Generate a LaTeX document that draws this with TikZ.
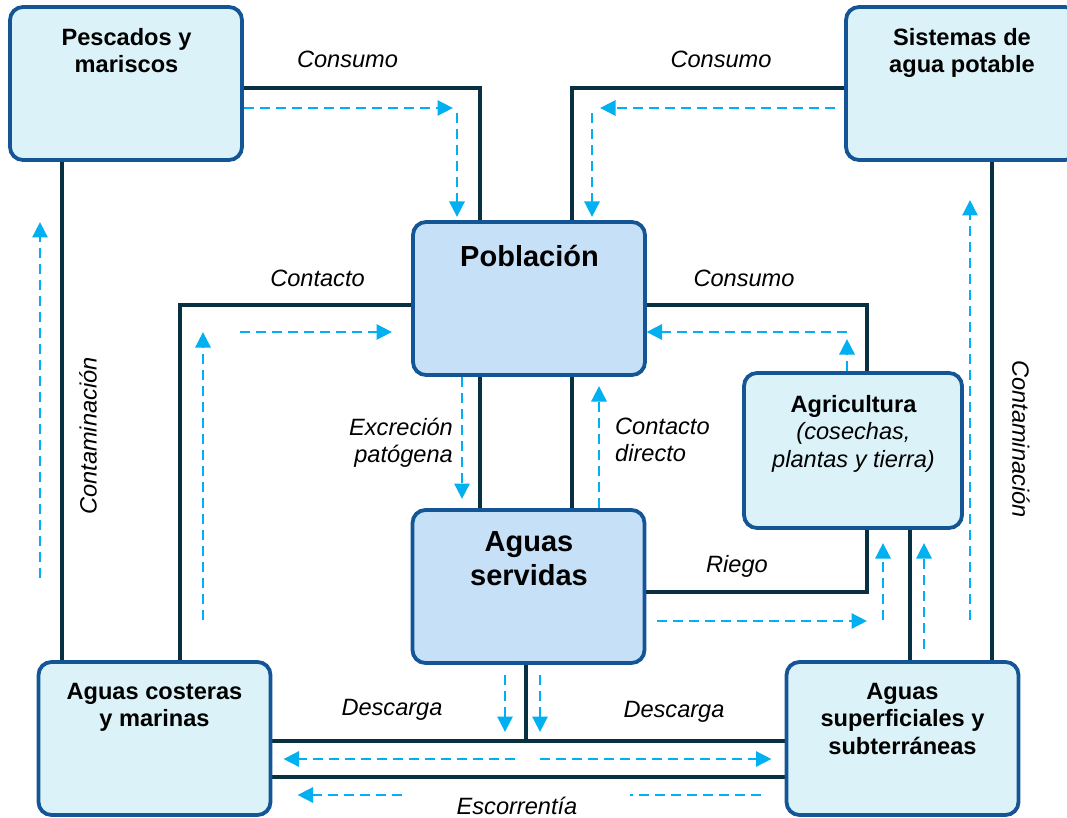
\documentclass[tikz,border=0pt]{standalone}
\usepackage{fontspec}
\setmainfont{Liberation Sans}
\usetikzlibrary{arrows.meta,backgrounds}
\definecolor{boxline}{RGB}{20,85,150}
\definecolor{boxpale}{RGB}{219,243,248}
\definecolor{boxblue}{RGB}{198,224,247}
\definecolor{linkcol}{RGB}{8,48,64}
\definecolor{flowcol}{RGB}{0,176,240}
\tikzset{
  box/.style={draw=boxline, line width=3.8pt, rounded corners=13pt, fill=boxpale,
    inner sep=0pt, outer sep=0pt, minimum width=232pt, minimum height=153pt},
  keybox/.style={box, fill=boxblue},
  title/.style={font=\fontsize{23.6}{27.5}\selectfont\bfseries, align=center, inner sep=0pt, anchor=north},
  bigtitle/.style={font=\fontsize{29}{34}\selectfont\bfseries, align=center, inner sep=0pt, anchor=north},
  lbl/.style={font=\fontsize{23.6}{26.7}\selectfont\itshape, inner sep=0pt},
  linkst/.style={draw=linkcol, line width=4pt, line join=miter},
  flowline/.style={draw=flowcol, line width=2.9pt, dash pattern=on 10pt off 6pt},
  flow/.style={flowline, -{Triangle[length=15.5pt,width=15pt]}},
}
\begin{document}
\begin{tikzpicture}[x=1pt, y=-1pt]
\useasboundingbox (0,0) rectangle (1067,818);
\clip (0,0) rectangle (1067,818);

% boxes
\node[box] (pesc) at (126,83.5) {};
\node[box] (sist) at (962,83.5) {};
\node[keybox] (pob) at (529,298.5) {};
\node[keybox] (serv) at (528.5,586.5) {};
\node[box, minimum width=218pt, minimum height=155pt] (agri) at (853,450.5) {};
\node[box] (cost) at (154.5,738.5) {};
\node[box] (sup) at (902.5,738.5) {};

% box titles
\node[title] (pesc-t) at (126.5,28) {Pescados y\\mariscos};
\node[title] (sist-t) at (962,28) {Sistemas de\\agua potable};
\node[bigtitle] (pob-t) at (529.5,245) {Población};
\node[bigtitle] (serv-t) at (529,531) {Aguas\\servidas};
\node[title] (agri-t) at (853.5,395) {Agricultura\\{\mdseries\itshape (cosechas,}\\{\mdseries\itshape plantas y tierra)}};
\node[title] (cost-t) at (154.5,683) {Aguas costeras\\y marinas};
\node[title] (sup-t) at (902.5,683) {Aguas\\superficiales y\\subterráneas};

% solid links between the boxes
\begin{scope}[on background layer]
\draw[linkst] (pesc.east |- 0,88) -| (pob.north -| 480,0);
\draw[linkst] (sist.west |- 0,88) -| (pob.north -| 572,0);
\draw[linkst] (pesc.south -| 62,0) -- (cost.north -| 62,0);
\draw[linkst] (sist.south -| 992,0) -- (sup.north -| 992,0);
\draw[linkst] (pob.west |- 0,305) -| (cost.north -| 180,0);
\draw[linkst] (pob.east |- 0,305) -| (agri.north -| 867,0);
\draw[linkst] (pob.south -| 480,0) -- (serv.north -| 480,0);
\draw[linkst] (pob.south -| 572,0) -- (serv.north -| 572,0);
\draw[linkst] (serv.east |- 0,592) -| (agri.south -| 867,0);
\draw[linkst] (agri.south -| 910,0) -- (sup.north -| 910,0);
\coordinate (jn) at (526,741);
\draw[linkst] (serv.south -| jn) -- (jn);
\draw[linkst] (cost.east |- 0,741) -- (sup.west |- 0,741);
\draw[linkst] (cost.east |- 0,777) -- (sup.west |- 0,777);
\end{scope}

% dashed flows
\coordinate (pc1) at (453,108);
\coordinate (pc2) at (457,113);
\draw[flow, shorten <=2pt] (pesc.east |- pc1) -- (pc1);
\draw[flow, shorten >=5pt] (pc2) -- (pob.north -| pc2);

\coordinate (sc1) at (600,108);
\coordinate (sc2) at (592,113);
\draw[flow, shorten <=11pt] (sist.west |- sc1) -- (sc1);
\draw[flow, shorten >=5pt] (sc2) -- (pob.north -| sc2);

\coordinate (lc0) at (40,578);
\coordinate (lc1) at (40,222);
\draw[flow] (lc0) -- (lc1);

\coordinate (ct0) at (203,620);
\coordinate (ct1) at (203,332);
\coordinate (ct2) at (240,332);
\coordinate (ct3) at (392,332);
\draw[flow] (ct0) -- (ct1);
\draw[flow] (ct2) -- (ct3);

\draw[flow, shorten <=2pt, shorten >=11pt] (pob.south -| 462,0) -- (serv.north -| 462,0);
\draw[flow, shorten <=2pt, shorten >=11pt] (serv.north -| 599,0) -- (pob.south -| 599,0);

\coordinate (ag1) at (847,339);
\coordinate (ag2) at (847,332);
\draw[flow, shorten <=2pt] (agri.north -| ag1) -- (ag1);
\draw[flow, shorten >=1.5pt] (ag2) -- (pob.east |- ag2);

\coordinate (rg1) at (867,621);
\coordinate (rg2) at (883,620);
\draw[flow, shorten <=12pt] (serv.east |- rg1) -- (rg1);
\draw[flow, shorten >=15pt] (rg2) -- (agri.south -| rg2);
\draw[flow, shorten <=13pt, shorten >=15pt] (sup.north -| 924,0) -- (agri.south -| 924,0);

\coordinate (rc0) at (970,620);
\coordinate (rc1) at (970,200);
\draw[flow] (rc0) -- (rc1);

\coordinate (ds1) at (505,732);
\coordinate (ds2) at (540,732);
\draw[flow, shorten <=12pt] (serv.south -| ds1) -- (ds1);
\draw[flow, shorten <=12pt] (serv.south -| ds2) -- (ds2);

\coordinate (md0) at (515,759);
\coordinate (md1) at (540,759);
\draw[flow, shorten >=13pt] (md0) -- (cost.east |- md0);
\draw[flow, shorten >=15pt] (md1) -- (sup.west |- md1);

\coordinate (es0) at (630,795);
\coordinate (es1) at (402,795);
\draw[flowline, shorten <=26pt] (sup.west |- es0) -- (es0);
\draw[flow, shorten >=27pt] (es1) -- (cost.east |- es1);

% link labels
\node[lbl, anchor=base] (l-cons1) at (347.5,68) {Consumo};
\node[lbl, anchor=base] (l-cons2) at (721,68) {Consumo};
\node[lbl, anchor=base] (l-cont) at (317.5,286) {Contacto};
\node[lbl, anchor=base] (l-cons3) at (744,286) {Consumo};
\node[lbl, anchor=north east, align=right] (l-excr) at (453,418) {Excreción\\patógena};
\node[lbl, anchor=north west, align=left] (l-cdir) at (615,418) {Contacto\\directo};
\node[lbl, anchor=base] (l-riego) at (737,572) {Riego};
\node[lbl, anchor=base] (l-desc1) at (392,715) {Descarga};
\node[lbl, anchor=base] (l-desc2) at (674,717) {Descarga};
\node[lbl, anchor=base] (l-esc) at (517,814) {Escorrentía};
\node[lbl, rotate=90] (l-cont1) at (88,436) {Contaminación};
\node[lbl, rotate=-90] (l-cont2) at (1021,439) {Contaminación};
\end{tikzpicture}
\end{document}
